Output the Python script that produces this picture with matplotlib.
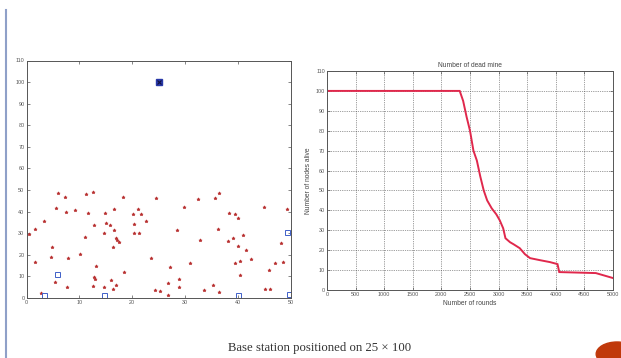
import matplotlib
matplotlib.use("Agg")
import matplotlib.pyplot as plt
from matplotlib.patches import Circle
from matplotlib.lines import Line2D

# ---- data: sensor node positions (red) ----
node_x = [0.5, 1.7, 1.7, 3.3, 2.7, 4.6, 4.8, 5.3, 5.5, 5.9, 7.2, 7.5, 7.6, 7.8, 9.1,
          10.2, 11.0, 11.6, 11.3, 12.5, 12.7, 12.9, 12.5, 12.8, 13.2, 14.6, 14.9, 14.7,
          15.0, 15.7, 16.0, 16.3, 16.5, 16.3, 16.6, 17.0, 17.2, 17.5, 16.9, 18.2, 18.5,
          20.2, 20.4, 20.4, 21.0, 21.3, 21.7, 22.5, 23.5, 24.2, 24.4, 25.3, 26.7, 26.8,
          27.2, 28.5, 28.9, 28.9, 29.8, 31.0, 32.5, 32.8, 33.5, 35.2, 35.6, 36.3, 36.2,
          36.3, 38.2, 38.1, 39.0, 39.5, 39.9, 39.9, 39.5, 40.3, 40.4, 40.9, 41.5, 42.4,
          44.9, 45.0, 46.1, 45.9, 47.0, 48.2, 48.4, 49.3]
node_y = [29.5, 32.0, 16.8, 35.8, 2.2, 19.1, 23.7, 7.2, 41.8, 48.8, 46.9, 40.0, 5.0, 18.4, 40.7,
          20.3, 28.1, 39.3, 48.4, 49.2, 9.9, 8.8, 5.6, 33.8, 14.8, 5.0, 39.2, 30.3,
          34.9, 33.8, 8.4, 23.5, 31.5, 4.4, 41.0, 27.6, 26.9, 26.1, 6.1, 47.0, 12.1,
          39.1, 34.1, 30.3, 41.3, 30.1, 38.9, 35.7, 18.4, 3.7, 46.2, 3.3, 7.1, 1.5,
          14.3, 31.6, 8.6, 4.9, 42.3, 16.0, 45.9, 26.9, 3.6, 6.0, 46.1, 48.6, 31.9,
          2.8, 39.5, 26.3, 27.6, 39.0, 36.9, 24.3, 16.0, 17.3, 10.6, 29.2, 22.2, 18.0,
          42.3, 4.2, 4.2, 13.1, 16.0, 25.5, 16.5, 41.0]

# ---- data: cluster heads (blue squares) and base station ----
head_x = [5.8, 3.3, 14.6, 40.0, 49.3, 49.6]
head_y = [11.0, 1.2, 1.6, 1.2, 30.7, 1.8]
bs_x = [25]
bs_y = [100]

# ---- data: alive nodes vs rounds ----
rounds = [0, 2320, 2380, 2440, 2500, 2560, 2620, 2680, 2740, 2800, 2880, 2960, 3020,
          3080, 3120, 3200, 3260, 3370, 3460, 3550, 3720, 3900, 4030, 4060, 4700, 4880, 5000]
alive = [100, 100, 95, 87, 80, 70, 65, 57, 50, 45, 41, 38, 35,
         31, 26, 24, 23, 21, 18, 16, 15, 14, 13, 9, 8.5, 7, 6]

x_ticks_left = [0, 10, 20, 30, 40, 50]
y_ticks = list(range(0, 111, 10))
x_ticks_right = list(range(0, 5001, 500))

plt.rcParams['font.family'] = ['Liberation Sans', 'DejaVu Sans']

fig = plt.figure(figsize=(6.21, 3.58), dpi=100)
fig.patch.set_facecolor('white')

tick_kw = dict(direction='in', length=2, width=0.5, labelsize=3.9,
               labelcolor='#555555', color='#555555', pad=1.5,
               top=True, right=True)

# ---- left: scatter of node positions ----
ax1 = fig.add_axes([26.5/621, 1-298/358, (291-26.5)/621, (298-60.5)/358])
ax1.plot(node_x, node_y, linestyle='none', marker='*', markersize=2.4,
         color='#b83030', markeredgewidth=0.5)
ax1.plot(head_x, head_y, linestyle='none', marker='s', markersize=3.6,
         markerfacecolor='none', markeredgecolor='#4060c8', markeredgewidth=0.7)
ax1.plot(bs_x, bs_y, linestyle='none', marker='s', markersize=4.2,
         color='#2838a8')
ax1.plot(bs_x, bs_y, linestyle='none', marker='x', markersize=3.2,
         color='#101040', markeredgewidth=0.8)
ax1.set_xlim(0, 50)
ax1.set_ylim(0, 110)
ax1.set_xticks(x_ticks_left)
ax1.set_yticks(y_ticks)
ax1.tick_params(**tick_kw)
for s in ax1.spines.values():
    s.set_color('#555555')
    s.set_linewidth(0.7)

# ---- right: alive nodes vs rounds ----
ax2 = fig.add_axes([327/621, 1-290/358, 286/621, 219/358])
ax2.plot(rounds, alive, color='#e0284c', linewidth=1.4, solid_joinstyle='miter')
ax2.set_xlim(0, 5000)
ax2.set_ylim(0, 110)
ax2.set_xticks(x_ticks_right)
ax2.set_yticks(y_ticks)
ax2.tick_params(**tick_kw)
ax2.grid(True, linestyle=(0, (1, 1.6)), color='#444444', linewidth=0.5)
for s in ax2.spines.values():
    s.set_color('#555555')
    s.set_linewidth(0.7)
ax2.set_title('Number of dead mine', fontsize=4.8, color='#444444', pad=3)
ax2.set_xlabel('Number of rounds', fontsize=4.8, color='#444444', labelpad=2)
ax2.set_ylabel('Number of nodes alive', fontsize=4.8, color='#444444', labelpad=3)

# ---- slide decorations ----
fig.add_artist(Line2D([5.5/621, 5.5/621], [0, 1-10/358], color='#8fa0c8',
                      linewidth=1.5, transform=fig.transFigure))
fig.add_artist(Circle((617/621, 1-354/358), 12/358, transform=fig.transFigure,
                      color='#c0390b'))
fig.text(320/621, 1-348/358, 'Base station positioned on 25 \u00d7 100',
         ha='center', va='center', fontsize=9.2, color='#333333',
         family=['Liberation Serif', 'DejaVu Serif'])

fig.savefig('out.png', dpi=100)
